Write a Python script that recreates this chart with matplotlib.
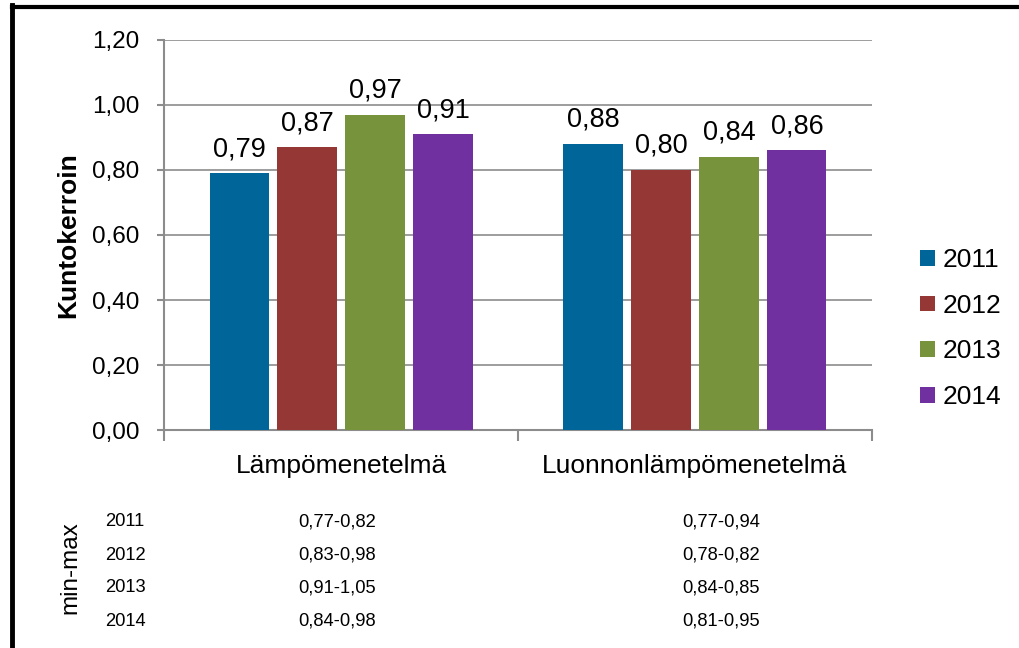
import numpy as np
import matplotlib.pyplot as plt
from matplotlib.lines import Line2D
from matplotlib.ticker import FuncFormatter, FixedLocator

plt.rcParams['font.family'] = ['Liberation Sans', 'DejaVu Sans']

# kuntokertoimet menetelmittäin ja vuosittain
menetelmat = ['Lämpömenetelmä', 'Luonnonlämpömenetelmä']
vuodet = ['2011', '2012', '2013', '2014']
arvot = [
    [0.79, 0.88],
    [0.87, 0.80],
    [0.97, 0.84],
    [0.91, 0.86],
]
varit = ['#006699', '#953735', '#77933C', '#7030A0']

# min-max -vaihteluvälit taulukkoon
minmax_lampo = ['0,77-0,82', '0,83-0,98', '0,91-1,05', '0,84-0,98']
minmax_luonto = ['0,77-0,94', '0,78-0,82', '0,84-0,85', '0,81-0,95']

fs = 19

fig = plt.figure(figsize=(10.19, 6.48), dpi=100)
ax = fig.add_axes([0.161, 0.3364, 0.6947, 0.6019])

x = np.arange(len(menetelmat))
leveys = 0.167
vali = 0.192
for i, (vuosi, sarja) in enumerate(zip(vuodet, arvot)):
    pos = x + (i - 1.5) * vali
    ax.bar(pos, sarja, width=leveys, color=varit[i], label=vuosi, zorder=3)
    for p, v in zip(pos, sarja):
        ax.annotate(f'{v:.2f}'.replace('.', ','), (p, v), xytext=(0, 8),
                    textcoords='offset points', ha='center', va='bottom', fontsize=19.5)

ax.set_xlim(-0.5, 1.5)
ax.set_ylim(0, 1.2)
ax.set_yticks(np.arange(0, 1.21, 0.2))
ax.yaxis.set_major_formatter(FuncFormatter(lambda v, _: f'{v:.2f}'.replace('.', ',')))
ax.grid(axis='y', color='#8c8c8c', linewidth=1.2, zorder=0)

# kategorianimet keskelle, tikit ryhmien rajoille
ax.set_xticks(x)
ax.set_xticklabels(menetelmat, fontsize=fs)
ax.tick_params(axis='x', length=0, pad=17)
ax.xaxis.set_minor_locator(FixedLocator([-0.5, 0.5, 1.5]))
ax.tick_params(axis='x', which='minor', length=8, width=1.5, color='#8c8c8c', direction='out')
ax.tick_params(axis='y', labelsize=17.5, length=5, width=1.5, color='#8c8c8c', pad=13)

for s in ['top', 'right']:
    ax.spines[s].set_visible(False)
for s in ['left', 'bottom']:
    ax.spines[s].set_color('#8c8c8c')
    ax.spines[s].set_linewidth(1.5)

ax.set_ylabel('Kuntokerroin', fontsize=fs, fontweight='bold', labelpad=8)

ax.legend(loc='center left', bbox_to_anchor=(1.035, 0.26), frameon=False, fontsize=fs,
          handlelength=0.55, handleheight=0.55, handletextpad=0.3, labelspacing=0.82)

# min-max -taulukko kuvan alaosaan
fig.text(70 / 1019, 1 - 568 / 648, 'min-max', rotation=90, fontsize=17.5, ha='center', va='center')
rivit_y = [522, 555, 588, 621]
for yy, vuosi, a, b in zip(rivit_y, vuodet, minmax_lampo, minmax_luonto):
    fy = 1 - yy / 648
    fig.text(105 / 1019, fy, vuosi, fontsize=13.2, va='center')
    fig.text(298 / 1019, fy, a, fontsize=13.2, va='center')
    fig.text(682 / 1019, fy, b, fontsize=13.2, va='center')

# musta reunaviiva ylä- ja vasempaan laitaan
fig.add_artist(Line2D([12 / 1019, 1], [1 - 6.5 / 648, 1 - 6.5 / 648], color='black', linewidth=3))
fig.add_artist(Line2D([12 / 1019, 12 / 1019], [0, 1 - 5 / 648], color='black', linewidth=3.5))

fig.savefig('out.png', dpi=100)
